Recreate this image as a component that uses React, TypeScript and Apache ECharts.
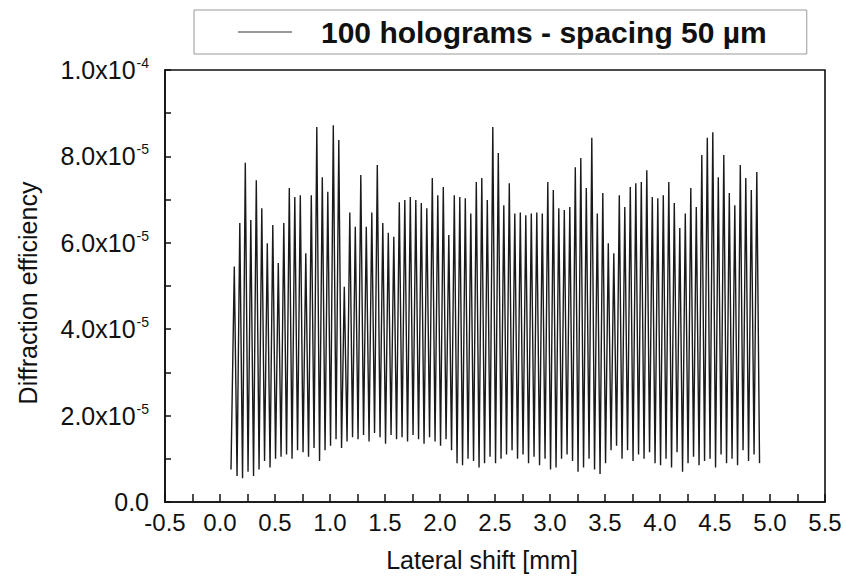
import React, { useEffect, useRef } from "react";
import * as echarts from "echarts";

// ---- data (values in units of 1e-5) ----
const seriesName = "100 holograms - spacing 50 \u00b5m";
const firstPeakMm = 0.13;
const spacingMm = 0.05;
const startValue = 0.75;
const peakValues = [
  5.45, 6.46, 7.85, 6.53, 7.45, 6.8, 5.99, 6.41, 5.53, 6.46,
  7.27, 7.06, 7.1, 5.76, 7.1, 8.68, 7.52, 7.18, 8.72, 8.38,
  4.98, 6.7, 6.37, 7.57, 6.37, 6.7, 7.8, 6.46, 6.23, 6.14,
  6.94, 6.99, 7.06, 6.99, 6.92, 6.8, 7.5, 7.1, 7.29, 6.18,
  7.1, 7.06, 7.03, 6.68, 7.41, 7.5, 6.99, 8.68, 8.08, 6.87,
  7.38, 6.68, 6.7, 6.64, 6.68, 6.7, 6.68, 7.41, 7.22, 6.8,
  6.76, 6.83, 7.75, 7.96, 7.27, 8.43, 6.68, 7.15, 5.99, 5.76,
  7.1, 6.83, 7.29, 7.38, 7.41, 7.68, 7.06, 7.03, 7.1, 7.41,
  6.92, 6.34, 6.68, 7.27, 6.83, 8.03, 8.43, 8.56, 7.52, 8.03,
  7.15, 6.87, 7.8, 7.5, 7.22, 7.64,
];
const troughValues = [
  0.6, 0.55, 0.7, 0.6, 0.75, 0.95, 0.8, 1.0,
  1.05, 1.1, 1.0, 1.2, 1.15, 1.05, 1.25, 0.95,
  1.2, 1.3, 1.45, 1.25, 1.4, 1.5,
  1.45, 1.55, 1.4, 1.6, 1.5, 1.35, 1.55, 1.45, 1.5, 1.4, 1.55, 1.45, 1.35, 1.5, 1.4, 1.3, 1.45, 1.2,
  0.9, 0.85, 1.0, 0.95, 0.8, 0.9, 1.05, 0.9, 1.0, 1.1,
  1.2, 1.0, 1.1, 0.9, 1.05, 0.85, 1.0, 0.75, 0.8, 1.0,
  1.1, 0.95, 0.7, 0.8, 1.0, 0.75, 0.65, 0.9, 1.2, 1.3,
  1.0, 1.2, 0.95, 1.1, 1.0, 1.15, 0.9, 0.85, 1.0, 0.8,
  1.15, 0.7, 0.9, 1.05, 0.85, 0.95, 1.0, 0.8, 1.1, 0.9,
  1.0, 0.85, 1.2, 0.95, 1.1, 0.9,
];
// ticks every 0.25 mm, labels every 0.5 mm; ticks every 1e-5, labels every 2e-5
const xTicks = { min: -0.5, max: 5.5, interval: 0.25 };
const yTicks = { min: 0, max: 1e-4, interval: 1e-5 };
const xTitle = "Lateral shift [mm]";
const yTitle = "Diffraction efficiency";

const FONT = "'Liberation Sans', Arial, Helvetica, sans-serif";
const INK = "#111";
const GRID = { left: 165, right: 21, top: 70, bottom: 81 };
const W = 846;
const H = 583;

function buildData(): [number, number][] {
  const pts: [number, number][] = [];
  pts.push([firstPeakMm - spacingMm * 0.6, startValue * 1e-5]);
  peakValues.forEach((p, i) => {
    const x = firstPeakMm + i * spacingMm;
    pts.push([x, p * 1e-5]);
    pts.push([x + spacingMm / 2, troughValues[i] * 1e-5]);
  });
  return pts;
}

function xLabel(v: number): string {
  const h = Math.round(v * 2);
  if (Math.abs(v * 2 - h) > 1e-6) return "";
  return (h / 2).toFixed(1);
}

function yLabel(v: number): string {
  const n = Math.round(v / 1e-5);
  if (n === 0) return "{m|0.0}";
  if (n % 2 !== 0) return "";
  if (n === 10) return "{m|1.0x10}{s|-4}";
  return `{m|${n}.0x10}{s|-5}`;
}

export default function App() {
  const ref = useRef<HTMLDivElement>(null);
  useEffect(() => {
    if (!ref.current) return;
    const chart = echarts.init(ref.current, null, { renderer: "svg" });
    chart.setOption({
      animation: false,
      backgroundColor: "#ffffff",
      grid: GRID,
      legend: {
        left: 194,
        top: 10,
        padding: [7, 40, 7, 44],
        itemWidth: 54,
        itemHeight: 14,
        borderColor: "#999",
        borderWidth: 1,
        textStyle: {
          fontFamily: FONT,
          fontSize: 30,
          fontWeight: "bold",
          color: INK,
          padding: [0, 0, 0, 24],
        },
        data: [{ name: seriesName, icon: "path://M0,0 L54,0 L54,1 L0,1 Z" }],
        itemStyle: { color: "#333" },
      },
      xAxis: {
        type: "value",
        min: xTicks.min,
        max: xTicks.max,
        interval: xTicks.interval,
        axisLine: { show: true, onZero: false, lineStyle: { color: INK, width: 1.6 } },
        axisTick: { show: true, inside: true, length: 8, lineStyle: { color: INK, width: 1.5 } },
        splitLine: { show: false },
        axisLabel: {
          fontFamily: FONT,
          fontSize: 24,
          color: INK,
          margin: 8,
          formatter: xLabel,
        },
      },
      yAxis: {
        type: "value",
        min: yTicks.min,
        max: yTicks.max,
        interval: yTicks.interval,
        axisLine: { show: true, onZero: false, lineStyle: { color: INK, width: 1.6 } },
        axisTick: { show: true, inside: true, length: 6, lineStyle: { color: INK, width: 1.5 } },
        splitLine: { show: false },
        axisLabel: {
          margin: 16,
          color: INK,
          formatter: yLabel,
          rich: {
            m: { fontFamily: FONT, fontSize: 25, color: INK },
            s: { fontFamily: FONT, fontSize: 14, color: INK, verticalAlign: "top", padding: [0, 0, 14, 1] },
          },
        },
      },
      graphic: [
        {
          type: "rect",
          silent: true,
          z: 10,
          shape: {
            x: GRID.left,
            y: GRID.top,
            width: W - GRID.left - GRID.right,
            height: H - GRID.top - GRID.bottom,
          },
          style: { fill: "none", stroke: INK, lineWidth: 1.6 },
        },
        {
          type: "text",
          x: 482,
          y: 560,
          style: {
            text: xTitle,
            font: `25px ${FONT}`,
            fill: INK,
            align: "center",
            verticalAlign: "middle",
          },
        },
        {
          type: "text",
          x: 28,
          y: 293,
          rotation: Math.PI / 2,
          style: {
            text: yTitle,
            font: `25px ${FONT}`,
            fill: INK,
            align: "center",
            verticalAlign: "middle",
          },
        },
      ],
      series: [
        {
          name: seriesName,
          type: "line",
          data: buildData(),
          symbol: "none",
          lineStyle: { color: "#1a1a1a", width: 1.4 },
        },
      ],
    });
    return () => chart.dispose();
  }, []);
  return (
    <div
      ref={ref}
      style={{ position: "fixed", left: 0, top: 0, width: W, height: H, background: "#fff" }}
    />
  );
}
